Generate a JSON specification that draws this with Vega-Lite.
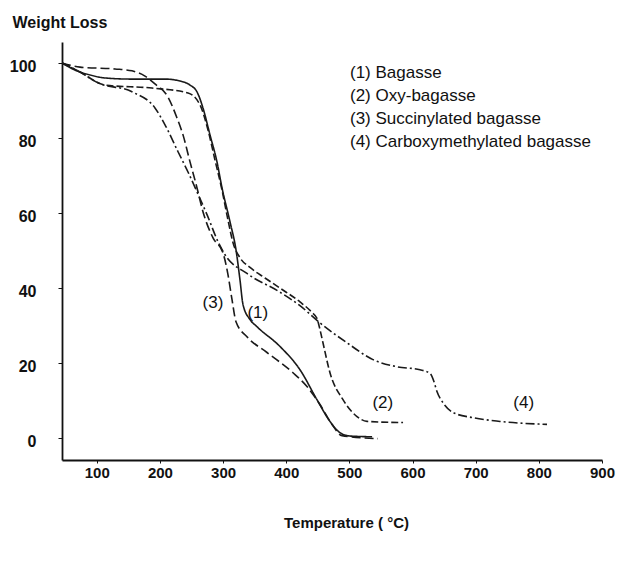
{
  "$schema": "https://vega.github.io/schema/vega-lite/v6.json",
  "width": 540,
  "height": 418,
  "autosize": "none",
  "padding": {"left": 62, "top": 42, "right": 16, "bottom": 102},
  "background": "white",
  "config": {
    "view": {"stroke": null},
    "font": "Liberation Sans",
    "axis": {"grid": false, "domainColor": "#111", "tickColor": "#111", "labelColor": "#111", "titleColor": "#111", "labelFont": "Liberation Sans", "titleFont": "Liberation Sans"}
  },
  "datasets": {
    "curves": [
      {"series": "(1) Bagasse", "T": 45, "W": 100},
      {"series": "(1) Bagasse", "T": 65.6, "W": 98.1},
      {"series": "(1) Bagasse", "T": 89.3, "W": 96.8},
      {"series": "(1) Bagasse", "T": 113.1, "W": 96.0},
      {"series": "(1) Bagasse", "T": 152.7, "W": 95.7},
      {"series": "(1) Bagasse", "T": 208.1, "W": 95.7},
      {"series": "(1) Bagasse", "T": 231.8, "W": 95.2},
      {"series": "(1) Bagasse", "T": 247.7, "W": 94.1},
      {"series": "(1) Bagasse", "T": 258.7, "W": 92.3},
      {"series": "(1) Bagasse", "T": 268.2, "W": 88.0},
      {"series": "(1) Bagasse", "T": 279.3, "W": 80.8},
      {"series": "(1) Bagasse", "T": 290.4, "W": 73.6},
      {"series": "(1) Bagasse", "T": 298.3, "W": 66.7},
      {"series": "(1) Bagasse", "T": 311.0, "W": 57.6},
      {"series": "(1) Bagasse", "T": 320.5, "W": 50.1},
      {"series": "(1) Bagasse", "T": 326.8, "W": 42.1},
      {"series": "(1) Bagasse", "T": 331.6, "W": 35.5},
      {"series": "(1) Bagasse", "T": 342.7, "W": 31.5},
      {"series": "(1) Bagasse", "T": 353.7, "W": 29.6},
      {"series": "(1) Bagasse", "T": 390.2, "W": 24.3},
      {"series": "(1) Bagasse", "T": 421.8, "W": 18.1},
      {"series": "(1) Bagasse", "T": 448.7, "W": 10.1},
      {"series": "(1) Bagasse", "T": 469.3, "W": 4.3},
      {"series": "(1) Bagasse", "T": 485.2, "W": 1.3},
      {"series": "(1) Bagasse", "T": 501.0, "W": 0.4},
      {"series": "(1) Bagasse", "T": 536.0, "W": 0.2},

      {"series": "(2) Oxy-bagasse", "T": 45, "W": 100},
      {"series": "(2) Oxy-bagasse", "T": 73.5, "W": 97.6},
      {"series": "(2) Oxy-bagasse", "T": 113.1, "W": 94.1},
      {"series": "(2) Oxy-bagasse", "T": 187.5, "W": 93.3},
      {"series": "(2) Oxy-bagasse", "T": 244.5, "W": 92.0},
      {"series": "(2) Oxy-bagasse", "T": 263.5, "W": 88.8},
      {"series": "(2) Oxy-bagasse", "T": 276.2, "W": 82.1},
      {"series": "(2) Oxy-bagasse", "T": 287.2, "W": 74.1},
      {"series": "(2) Oxy-bagasse", "T": 298.3, "W": 66.1},
      {"series": "(2) Oxy-bagasse", "T": 307.8, "W": 58.1},
      {"series": "(2) Oxy-bagasse", "T": 315.8, "W": 52.0},
      {"series": "(2) Oxy-bagasse", "T": 326.8, "W": 48.0},
      {"series": "(2) Oxy-bagasse", "T": 342.7, "W": 45.4},
      {"series": "(2) Oxy-bagasse", "T": 366.4, "W": 42.6},
      {"series": "(2) Oxy-bagasse", "T": 390.2, "W": 39.9},
      {"series": "(2) Oxy-bagasse", "T": 421.8, "W": 36.2},
      {"series": "(2) Oxy-bagasse", "T": 440.8, "W": 33.4},
      {"series": "(2) Oxy-bagasse", "T": 448.7, "W": 31.8},
      {"series": "(2) Oxy-bagasse", "T": 453.5, "W": 28.8},
      {"series": "(2) Oxy-bagasse", "T": 458.2, "W": 25.3},
      {"series": "(2) Oxy-bagasse", "T": 469.3, "W": 17.3},
      {"series": "(2) Oxy-bagasse", "T": 489.9, "W": 10.1},
      {"series": "(2) Oxy-bagasse", "T": 512.1, "W": 5.6},
      {"series": "(2) Oxy-bagasse", "T": 527.9, "W": 4.3},
      {"series": "(2) Oxy-bagasse", "T": 585.0, "W": 4.0},

      {"series": "(3) Succinylated bagasse", "T": 45, "W": 100},
      {"series": "(3) Succinylated bagasse", "T": 73.5, "W": 98.9},
      {"series": "(3) Succinylated bagasse", "T": 128.9, "W": 98.4},
      {"series": "(3) Succinylated bagasse", "T": 155.8, "W": 97.9},
      {"series": "(3) Succinylated bagasse", "T": 176.4, "W": 96.5},
      {"series": "(3) Succinylated bagasse", "T": 192.2, "W": 94.4},
      {"series": "(3) Succinylated bagasse", "T": 212.8, "W": 90.9},
      {"series": "(3) Succinylated bagasse", "T": 227.1, "W": 85.3},
      {"series": "(3) Succinylated bagasse", "T": 236.6, "W": 80.8},
      {"series": "(3) Succinylated bagasse", "T": 247.7, "W": 73.6},
      {"series": "(3) Succinylated bagasse", "T": 258.7, "W": 66.7},
      {"series": "(3) Succinylated bagasse", "T": 268.2, "W": 60.3},
      {"series": "(3) Succinylated bagasse", "T": 284.1, "W": 53.3},
      {"series": "(3) Succinylated bagasse", "T": 299.9, "W": 49.3},
      {"series": "(3) Succinylated bagasse", "T": 307.8, "W": 43.5},
      {"series": "(3) Succinylated bagasse", "T": 314.2, "W": 36.8},
      {"series": "(3) Succinylated bagasse", "T": 320.5, "W": 30.9},
      {"series": "(3) Succinylated bagasse", "T": 337.9, "W": 26.9},
      {"series": "(3) Succinylated bagasse", "T": 369.6, "W": 22.7},
      {"series": "(3) Succinylated bagasse", "T": 410.7, "W": 17.3},
      {"series": "(3) Succinylated bagasse", "T": 432.9, "W": 13.6},
      {"series": "(3) Succinylated bagasse", "T": 453.5, "W": 8.8},
      {"series": "(3) Succinylated bagasse", "T": 472.5, "W": 3.5},
      {"series": "(3) Succinylated bagasse", "T": 488.3, "W": 0.5},
      {"series": "(3) Succinylated bagasse", "T": 545.3, "W": -0.3},

      {"series": "(4) Carboxymethylated bagasse", "T": 45, "W": 100},
      {"series": "(4) Carboxymethylated bagasse", "T": 73.5, "W": 97.6},
      {"series": "(4) Carboxymethylated bagasse", "T": 102.0, "W": 94.7},
      {"series": "(4) Carboxymethylated bagasse", "T": 155.8, "W": 92.3},
      {"series": "(4) Carboxymethylated bagasse", "T": 192.2, "W": 88.0},
      {"series": "(4) Carboxymethylated bagasse", "T": 208.1, "W": 83.5},
      {"series": "(4) Carboxymethylated bagasse", "T": 228.7, "W": 76.3},
      {"series": "(4) Carboxymethylated bagasse", "T": 244.5, "W": 70.9},
      {"series": "(4) Carboxymethylated bagasse", "T": 258.7, "W": 65.6},
      {"series": "(4) Carboxymethylated bagasse", "T": 274.6, "W": 59.5},
      {"series": "(4) Carboxymethylated bagasse", "T": 292.0, "W": 52.3},
      {"series": "(4) Carboxymethylated bagasse", "T": 303.1, "W": 48.8},
      {"series": "(4) Carboxymethylated bagasse", "T": 337.9, "W": 43.8},
      {"series": "(4) Carboxymethylated bagasse", "T": 390.2, "W": 38.8},
      {"series": "(4) Carboxymethylated bagasse", "T": 421.8, "W": 35.2},
      {"series": "(4) Carboxymethylated bagasse", "T": 453.5, "W": 30.6},
      {"series": "(4) Carboxymethylated bagasse", "T": 496.2, "W": 25.3},
      {"series": "(4) Carboxymethylated bagasse", "T": 537.4, "W": 20.8},
      {"series": "(4) Carboxymethylated bagasse", "T": 575.4, "W": 18.9},
      {"series": "(4) Carboxymethylated bagasse", "T": 611.8, "W": 18.1},
      {"series": "(4) Carboxymethylated bagasse", "T": 627.7, "W": 17.1},
      {"series": "(4) Carboxymethylated bagasse", "T": 634.0, "W": 14.9},
      {"series": "(4) Carboxymethylated bagasse", "T": 638.7, "W": 12.3},
      {"series": "(4) Carboxymethylated bagasse", "T": 648.2, "W": 9.3},
      {"series": "(4) Carboxymethylated bagasse", "T": 664.0, "W": 6.7},
      {"series": "(4) Carboxymethylated bagasse", "T": 695.7, "W": 5.3},
      {"series": "(4) Carboxymethylated bagasse", "T": 738.5, "W": 4.3},
      {"series": "(4) Carboxymethylated bagasse", "T": 812.9, "W": 3.5}
    ],
    "tags": [
      {"tag": "(3)", "T": 284, "W": 36},
      {"tag": "(1)", "T": 355, "W": 33.3},
      {"tag": "(2)", "T": 553, "W": 9.1},
      {"tag": "(4)", "T": 776, "W": 9.1}
    ]
  },
  "layer": [
    {
      "data": {"name": "curves"},
      "mark": {"type": "line", "color": "#1a1a1a", "strokeWidth": 1.6, "interpolate": "monotone"},
      "encoding": {
        "x": {
          "field": "T", "type": "quantitative",
          "scale": {"domain": [45, 900], "nice": false, "zero": false},
          "axis": {
            "title": "Temperature ( °C)",
            "values": [100, 200, 300, 400, 500, 600, 700, 800, 900],
            "domainWidth": 2,
            "tickSize": 3,
            "labelPadding": 2,
            "labelFontSize": 15,
            "labelFontWeight": "bold",
            "labelFlush": false,
            "labelOverlap": false,
            "titleFontSize": 15,
            "titleFontWeight": "bold",
            "titleX": 284,
            "titleY": 62,
            "titleBaseline": "middle"
          }
        },
        "y": {
          "field": "W", "type": "quantitative",
          "scale": {"domain": [-6, 105.6], "nice": false, "zero": false},
          "axis": {
            "title": "Weight Loss",
            "values": [0, 20, 40, 60, 80, 100],
            "domainWidth": 1.8,
            "tickSize": 4,
            "labelPadding": 22,
            "labelOffset": 4,
            "labelFontSize": 16,
            "labelFontWeight": "bold",
            "labelFlush": false,
            "titleFontSize": 16,
            "titleFontWeight": "bold",
            "titleAngle": 0,
            "titleAlign": "left",
            "titleBaseline": "middle",
            "titleX": -50,
            "titleY": -20
          }
        },
        "detail": {"field": "series", "type": "nominal"},
        "strokeDash": {
          "field": "series", "type": "nominal",
          "scale": {
            "domain": ["(1) Bagasse", "(2) Oxy-bagasse", "(3) Succinylated bagasse", "(4) Carboxymethylated bagasse"],
            "range": [[1, 0], [7, 3], [9, 4], [9, 3, 2, 3]]
          },
          "legend": {
            "title": null,
            "orient": "none",
            "legendX": 271,
            "legendY": 22,
            "padding": 0,
            "symbolSize": 0,
            "symbolStrokeWidth": 0,
            "symbolOpacity": 0,
            "labelOffset": 0,
            "labelFontSize": 17,
            "labelColor": "#111",
            "labelLimit": 400,
            "rowPadding": 5
          }
        }
      }
    },
    {
      "data": {"name": "tags"},
      "mark": {"type": "text", "fontSize": 17, "color": "#111", "align": "center", "baseline": "middle"},
      "encoding": {
        "x": {"field": "T", "type": "quantitative"},
        "y": {"field": "W", "type": "quantitative"},
        "text": {"field": "tag"}
      }
    }
  ]
}
